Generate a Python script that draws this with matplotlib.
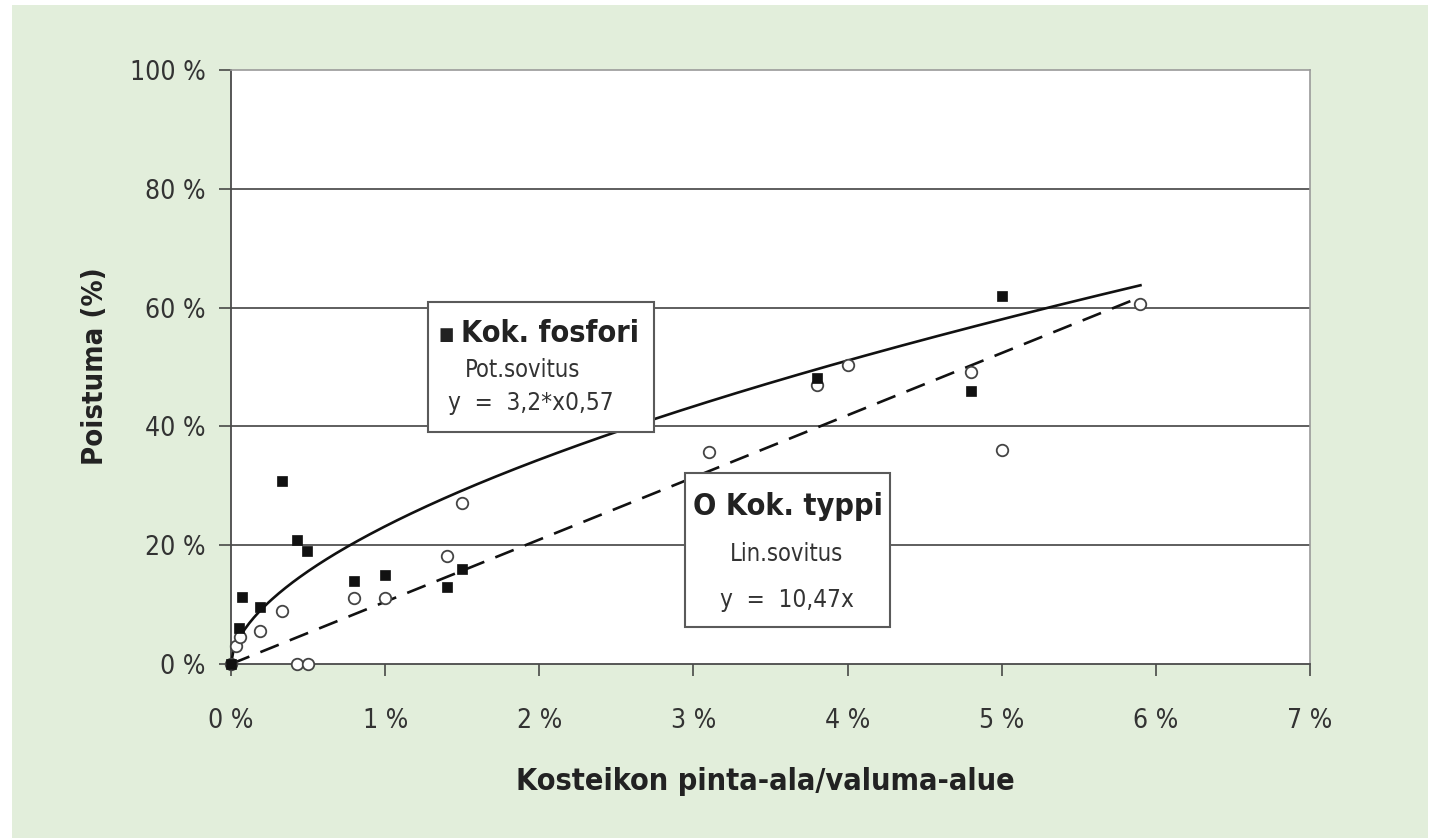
import numpy as np
import matplotlib
matplotlib.use("Agg")
import matplotlib.pyplot as plt
from matplotlib.patches import Rectangle
from matplotlib.ticker import FuncFormatter

# ---- data (fractions of 1) ----
fosfori_x = [0.0, 0.0005, 0.0007, 0.0019, 0.0033, 0.0043, 0.0049, 0.008, 0.010, 0.014, 0.015, 0.038, 0.048, 0.050]
fosfori_y = [0.0, 0.060, 0.113, 0.096, 0.308, 0.209, 0.190, 0.140, 0.150, 0.130, 0.160, 0.481, 0.460, 0.620]

typpi_x = [0.0, 0.0003, 0.0006, 0.0019, 0.0033, 0.0043, 0.0050, 0.008, 0.010, 0.014, 0.015, 0.031, 0.038, 0.040, 0.048, 0.050, 0.059]
typpi_y = [0.0, 0.030, 0.045, 0.056, 0.089, 0.0, 0.0, 0.111, 0.111, 0.182, 0.271, 0.357, 0.470, 0.503, 0.492, 0.360, 0.606]

# fitted models as printed in the chart
pot_a, pot_b = 3.2, 0.57      # y = 3.2 * x^0.57
lin_k = 10.47                 # y = 10.47 x
fit_xmax = 0.059

x_ticks = [0.00, 0.01, 0.02, 0.03, 0.04, 0.05, 0.06, 0.07]
y_ticks = [0.0, 0.2, 0.4, 0.6, 0.8, 1.0]

plt.rcParams['font.family'] = ['DejaVu Sans']
plt.rcParams['font.stretch'] = 'condensed'

W, H = 1435, 838
fig = plt.figure(figsize=(W / 100, H / 100), dpi=100, facecolor='white')
# light green panel
fig.patches.append(Rectangle((12 / W, 0), (1428 - 12) / W, 1 - 5 / H,
                             transform=fig.transFigure, facecolor='#e2eedb',
                             edgecolor='none', zorder=-10))

ax = fig.add_axes([231 / W, 1 - 664 / H, (1310 - 231) / W, (664 - 70) / H])
ax.set_zorder(2)
ax.set_facecolor('white')
ax.set_xlim(0, 0.07)
ax.set_ylim(0, 1.0)

# grid lines
for yv in y_ticks[1:-1]:
    ax.axhline(yv, color='#333333', lw=1.1, zorder=1)

for s in ['top', 'right']:
    ax.spines[s].set_color('#9a9a9a')
    ax.spines[s].set_linewidth(1.2)
for s in ['left', 'bottom']:
    ax.spines[s].set_color('#4a4a4a')
    ax.spines[s].set_linewidth(1.3)

ax.set_xticks(x_ticks)
ax.set_yticks(y_ticks)
ax.xaxis.set_major_formatter(FuncFormatter(lambda v, p: f"{int(round(v * 100))} %"))
ax.yaxis.set_major_formatter(FuncFormatter(lambda v, p: f"{int(round(v * 100))} %"))
ax.tick_params(axis='both', direction='out', length=8.5, width=1.1, color='#3a3a3a',
               labelsize=19, labelcolor='#333333')
ax.tick_params(axis='x', pad=23.5)
ax.tick_params(axis='y', pad=10)

# fitted curves
xf = np.linspace(0, fit_xmax, 400)
ax.plot(xf, pot_a * xf ** pot_b, color='#111111', lw=1.9, zorder=3, clip_on=False)
ax.plot(xf, lin_k * xf, color='#111111', lw=1.9, dashes=(7.5, 4.5), zorder=3, clip_on=False)

# data points
ax.plot(typpi_x, typpi_y, 'o', ms=8.3, mfc='white', mec='#444444', mew=1.3, zorder=4, clip_on=False)
ax.plot(fosfori_x, fosfori_y, 's', ms=7.3, mfc='#111111', mec='#111111', mew=0.5, zorder=5, clip_on=False)

# legend / annotation boxes (axes fraction coordinates)
def box(x0, y0, x1, y1):
    ax.add_patch(Rectangle((x0, y0), x1 - x0, y1 - y0, transform=ax.transAxes,
                           facecolor='white', edgecolor='#5a5a5a', lw=1.5, zorder=6))

def px(xp, yp):
    return ((xp - 231) / 1079, (664 - yp) / 594)

b1a, b1b = px(428, 432), px(654, 302)
box(b1a[0], b1a[1], b1b[0], b1b[1])
b2a, b2b = px(685, 627), px(890, 473)
box(b2a[0], b2a[1], b2b[0], b2b[1])

tc = '#222222'
sub = '#333333'
p = px(446, 335)
ax.text(*p, "■", transform=ax.transAxes, ha='center', va='center',
        fontsize=13, color=tc, zorder=7)
p = px(461, 333)
ax.text(*p, "Kok. fosfori", transform=ax.transAxes, ha='left', va='center',
        fontsize=22, fontweight='bold', color=tc, zorder=7)
p = px(523, 370)
ax.text(*p, "Pot.sovitus", transform=ax.transAxes, ha='center', va='center',
        fontsize=17, color=sub, zorder=7)
p = px(531, 403)
ax.text(*p, "y  =  3,2*x0,57", transform=ax.transAxes, ha='center', va='center',
        fontsize=17.5, color=sub, zorder=7)

p = px(788, 506)
ax.text(*p, "O Kok. typpi", transform=ax.transAxes, ha='center', va='center',
        fontsize=22, fontweight='bold', color=tc, zorder=7)
p = px(787, 554)
ax.text(*p, "Lin.sovitus", transform=ax.transAxes, ha='center', va='center',
        fontsize=17, color=sub, zorder=7)
p = px(787, 600)
ax.text(*p, "y  =  10,47x", transform=ax.transAxes, ha='center', va='center',
        fontsize=17.5, color=sub, zorder=7)

# axis titles
fig.text(95 / W, 1 - 366 / H, "Poistuma (%)", rotation=90, ha='center', va='center',
         fontsize=21, fontweight='bold', color=tc)
fig.text(765 / W, 1 - 781 / H, "Kosteikon pinta-ala/valuma-alue", ha='center', va='center',
         fontsize=22, fontweight='bold', color=tc)

fig.savefig('out.png', dpi=100, facecolor='white')
